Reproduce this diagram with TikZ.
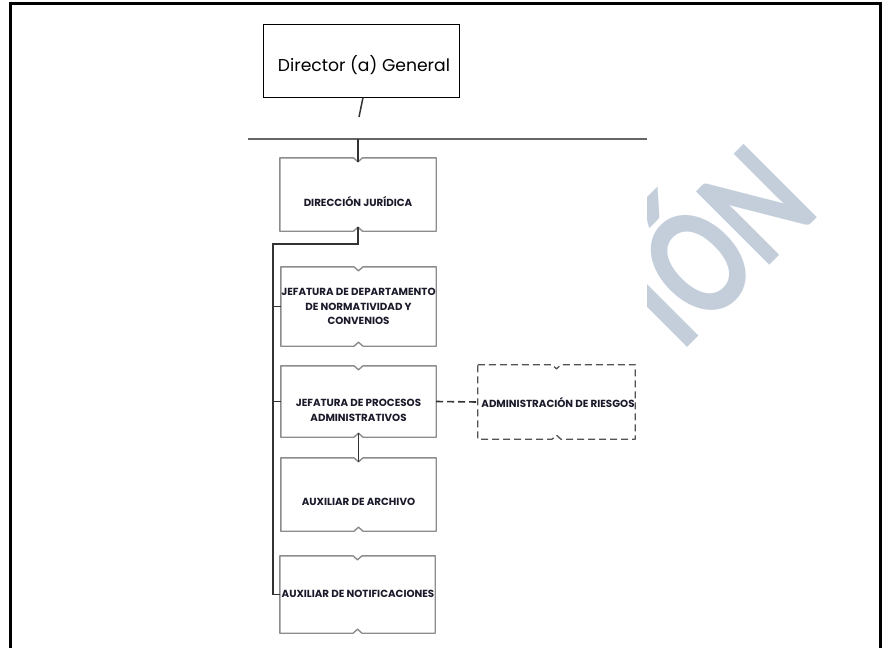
\documentclass[tikz,border=0pt]{standalone}
\usepackage{fontspec}
\setmainfont{Poppins}
\newfontfamily\wmfont[FakeStretch=0.78]{Carlito}
\usetikzlibrary{calc}

\definecolor{boxgray}{HTML}{8C8C8C}
\definecolor{linkgray}{HTML}{333333}
\definecolor{busgray}{HTML}{666666}
\definecolor{labelink}{HTML}{1A1A2A}
\definecolor{wmblue}{HTML}{C4CEDB}

% outline of a unit box: a small dip in the top edge, a small bump in the bottom edge
\newcommand{\notchbox}[2][]{%
  \draw[#1] (#2.north west) -- ($(#2.north)+(-4.5,0)$) -- ($(#2.north)+(0,4)$)
    -- ($(#2.north)+(4.5,0)$) -- (#2.north east) -- (#2.south east)
    -- ($(#2.south)+(4.5,0)$) -- ($(#2.south)+(0,-4)$) -- ($(#2.south)+(-4.5,0)$)
    -- (#2.south west) -- cycle;}

\tikzset{
  unitbox/.style={rectangle, draw=none, inner sep=0, minimum width=155pt},
  unitline/.style={draw=boxgray, line width=1.4pt, line join=round},
  lbl/.style={font=\bfseries\fontsize{10.3}{14.5}\selectfont, text=labelink, align=center, inner sep=0},
  conn/.style={draw=linkgray, line width=1.8pt},
  bus/.style={draw=busgray, line width=2.2pt},
}

\begin{document}
\begin{tikzpicture}[x=1pt,y=-1pt]
\useasboundingbox (0,0) rectangle (885,648);
\fill[white] (0,0) rectangle (885,648);

% watermark, visible only to the right of the chart
\begin{scope}
  \clip (647,4) rectangle (879,648);
  \node[rotate=45, anchor=base east, text=wmblue, inner sep=0,
        font=\wmfont\bfseries\fontsize{160}{160}\selectfont] (wm) at (823,212) {IÓN};
\end{scope}

% page frame
\draw[line width=3pt] (10.5,648) -- (10.5,3) -- (880.5,3) -- (880.5,648);

% director
\node[rectangle, draw=black, line width=1pt, minimum width=196pt, minimum height=73pt, inner sep=0]
  (dg) at (361,60.5) {};
\node[font=\fontsize{17.2}{20}\selectfont, text=black, inner sep=0] (dgt) at (364,65) {Director (a) General};

% units
\node[unitbox, minimum width=156pt, minimum height=73pt] (dj) at (358,194.5) {};
\node[unitbox, minimum height=79pt] (jn) at (358.5,306.5) {};
\node[unitbox, minimum height=71pt] (jp) at (358.5,401.5) {};
\node[unitbox, minimum height=73pt] (aa) at (358.5,494.5) {};
\node[unitbox, minimum height=77pt] (an) at (357.5,594.5) {};
\node[unitbox, minimum width=157pt, minimum height=74pt] (ar) at (556.5,402) {};

\notchbox[unitline]{dj}
\notchbox[unitline]{jn}
\notchbox[unitline]{jp}
\notchbox[unitline]{aa}
\notchbox[unitline]{an}
\notchbox[unitline, draw=linkgray!85, line width=1.3pt, dash pattern=on 7pt off 4pt]{ar}

\node[lbl] (djt) at (358,202) {DIRECCIÓN JURÍDICA};
\node[lbl] (jnt) at (358.5,306.5) {JEFATURA DE DEPARTAMENTO\\DE NORMATIVIDAD Y\\CONVENIOS};
\node[lbl] (jpt) at (358.5,410.5) {JEFATURA DE PROCESOS\\ADMINISTRATIVOS};
\node[lbl] (aat) at (358.5,502) {AUXILIAR DE ARCHIVO};
\node[lbl] (ant) at (358,594) {AUXILIAR DE NOTIFICACIONES};
\node[lbl] (art) at (558,403) {ADMINISTRACIÓN DE RIESGOS};

% connectors
\coordinate (dgtail) at (359,117);
\coordinate (busL) at (248,139);
\coordinate (busR) at (647,139);
\coordinate (trunk) at (273,244);

\draw[conn, line width=1.5pt] ($(dg.south)+(2,0)$) -- (dgtail);
\draw[bus] (busL) -- (busR);
\draw[conn] (dj.north |- busL) -- ($(dj.north)+(0,4)$);
\draw[conn] ($(dj.south)+(0,-4)$) |- (trunk) -- (trunk |- an.west) -- (an.west);
\draw[conn] (trunk |- jn.west) -- (jn.west);
\draw[conn] (trunk |- jp.west) -- (jp.west);
\draw[conn] ($(jp.south)+(0,-4)$) -- ($(aa.north)+(0,4)$);
\draw[conn, line width=1.6pt, dash pattern=on 7pt off 4pt] (jp.east) -- (ar.west);
\end{tikzpicture}
\end{document}
